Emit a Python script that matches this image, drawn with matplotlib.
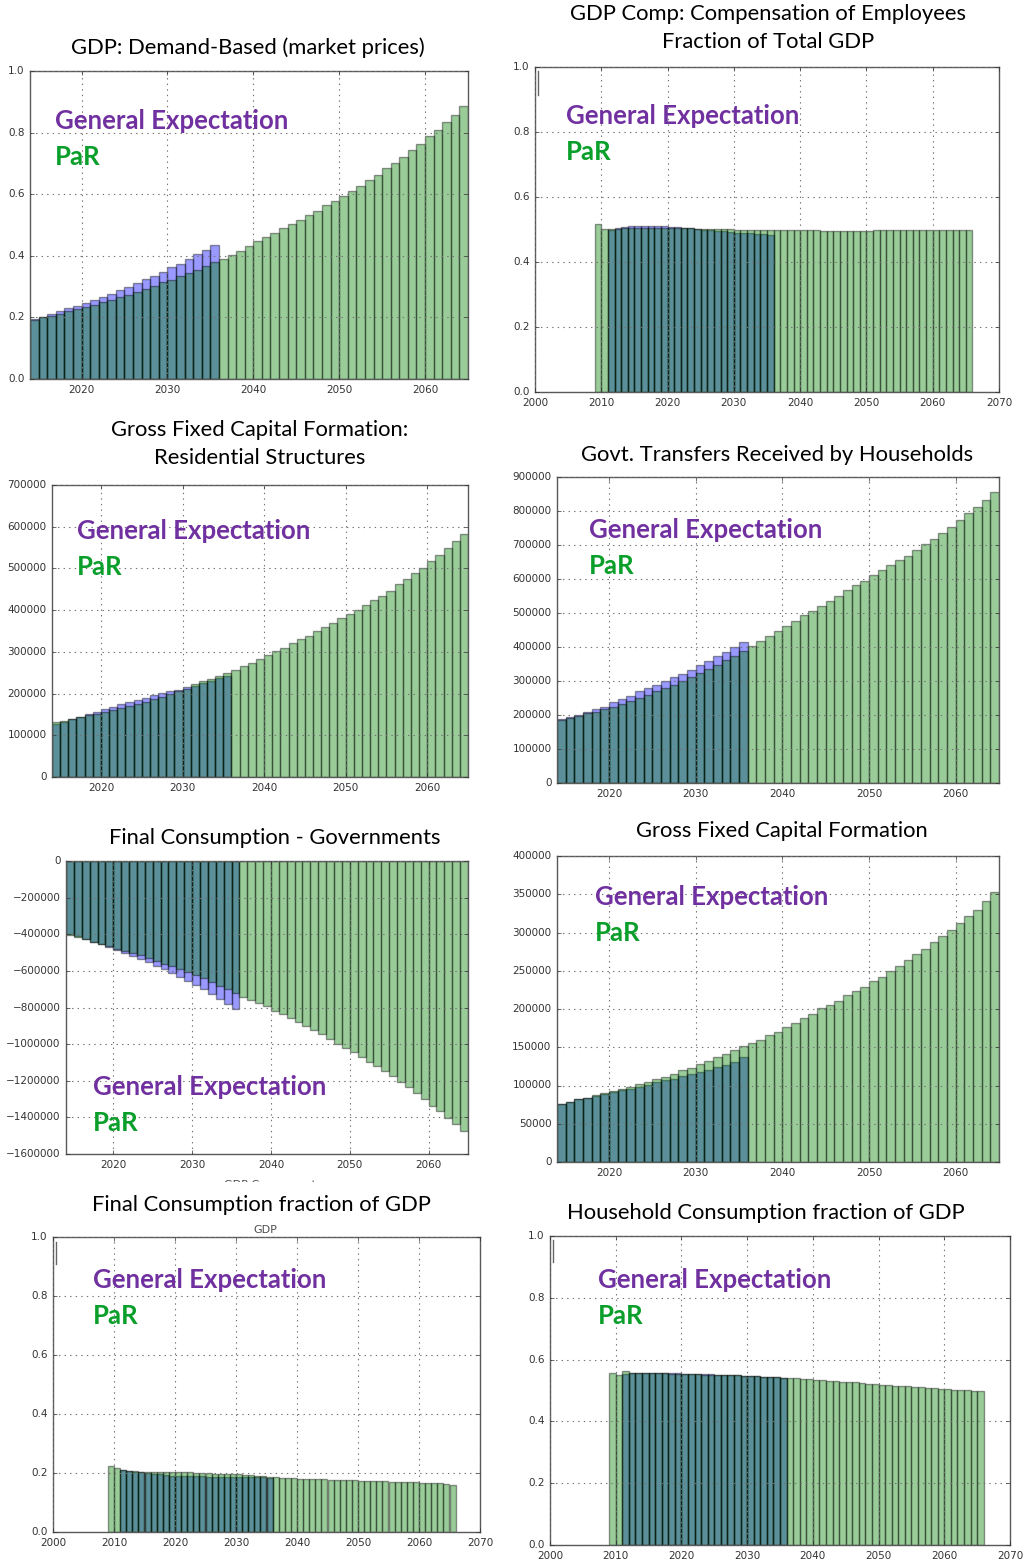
import numpy as np
import matplotlib.pyplot as plt
from matplotlib.lines import Line2D
from matplotlib.transforms import Bbox, TransformedBbox

plt.style.use('classic')

W, H = 1031, 1560

# --- GDP: Demand-Based (market prices) ---
gdp_years_par = np.arange(2014, 2065)
gdp_years_ge = np.arange(2014, 2036)
gdp_par = [0.192, 0.200, 0.205, 0.212, 0.220, 0.227, 0.234, 0.240, 0.249, 0.258,
           0.265, 0.274, 0.283, 0.292, 0.303, 0.314, 0.323, 0.334, 0.345, 0.355,
           0.368, 0.380, 0.391, 0.403, 0.417, 0.432, 0.447, 0.460, 0.474, 0.489,
           0.504, 0.516, 0.533, 0.546, 0.564, 0.578, 0.595, 0.610, 0.628, 0.645,
           0.662, 0.684, 0.702, 0.722, 0.743, 0.762, 0.788, 0.809, 0.834, 0.858,
           0.885]
gdp_ge = [0.195, 0.201, 0.211, 0.220, 0.230, 0.238, 0.248, 0.258, 0.267, 0.277,
          0.290, 0.299, 0.312, 0.324, 0.336, 0.349, 0.363, 0.375, 0.389, 0.407,
          0.420, 0.436]

# --- Compensation of employees, fraction of GDP ---
comp_years_par = np.arange(2009, 2066)
comp_years_ge = np.arange(2011, 2036)
comp_par = [0.518, 0.503, 0.502, 0.503, 0.504, 0.505, 0.505, 0.506, 0.506, 0.506,
            0.506, 0.505, 0.505, 0.504, 0.504, 0.503, 0.503, 0.502, 0.502, 0.501,
            0.501, 0.500, 0.500, 0.500, 0.499, 0.499, 0.499, 0.498, 0.498, 0.498,
            0.498, 0.497, 0.497, 0.497, 0.496, 0.496, 0.496, 0.496, 0.496, 0.496,
            0.496, 0.496, 0.497, 0.497, 0.497, 0.497, 0.497, 0.498, 0.498, 0.498,
            0.498, 0.498, 0.500, 0.500, 0.500, 0.500, 0.500]
comp_ge = [0.500, 0.504, 0.508, 0.510, 0.511, 0.511, 0.511, 0.511, 0.510, 0.508,
           0.507, 0.505, 0.504, 0.502, 0.500, 0.498, 0.496, 0.494, 0.492, 0.490,
           0.489, 0.488, 0.486, 0.485, 0.483]

# --- GFCF: residential structures ---
res_years_par = np.arange(2014, 2065)
res_years_ge = np.arange(2014, 2036)
res_par = [131e3, 134e3, 139e3, 144e3, 148e3, 152e3, 156e3, 160e3, 165e3, 170e3,
           175e3, 180e3, 186e3, 192e3, 199e3, 205e3, 212e3, 222e3, 229e3, 235e3,
           242e3, 250e3, 257e3, 265e3, 273e3, 283e3, 293e3, 301e3, 310e3, 322e3,
           331e3, 339e3, 350e3, 359e3, 370e3, 380e3, 390e3, 401e3, 413e3, 425e3,
           435e3, 447e3, 462e3, 474e3, 488e3, 502e3, 518e3, 532e3, 548e3, 565e3,
           583e3]
res_ge = [128e3, 133e3, 139e3, 145e3, 151e3, 156e3, 163e3, 168e3, 175e3, 180e3,
          185e3, 190e3, 196e3, 201e3, 206e3, 209e3, 215e3, 219e3, 225e3, 231e3,
          237e3, 243e3]

# --- Govt. transfers received by households ---
trans_years_par = np.arange(2014, 2065)
trans_years_ge = np.arange(2014, 2036)
trans_par = [186e3, 191e3, 198e3, 205e3, 210e3, 218e3, 225e3, 233e3, 242e3, 250e3,
             260e3, 270e3, 279e3, 288e3, 300e3, 312e3, 324e3, 335e3, 348e3, 363e3,
             375e3, 389e3, 404e3, 418e3, 432e3, 447e3, 463e3, 477e3, 493e3, 507e3,
             522e3, 536e3, 551e3, 567e3, 582e3, 595e3, 611e3, 626e3, 641e3, 655e3,
             669e3, 685e3, 704e3, 718e3, 735e3, 754e3, 775e3, 794e3, 813e3, 833e3,
             857e3]
trans_ge = [188e3, 194e3, 201e3, 209e3, 218e3, 225e3, 237e3, 247e3, 257e3, 270e3,
            278e3, 289e3, 301e3, 311e3, 322e3, 333e3, 347e3, 359e3, 373e3, 386e3,
            399e3, 414e3]

# --- Final consumption, governments ---
gov_years_par = np.arange(2014, 2065)
gov_years_ge = np.arange(2014, 2036)
gov_par = [-404e3, -415e3, -427e3, -440e3, -452e3, -465e3, -478e3, -490e3, -503e3,
           -516e3, -530e3, -545e3, -560e3, -575e3, -590e3, -606e3, -622e3, -640e3,
           -660e3, -680e3, -700e3, -722e3, -742e3, -759e3, -773e3, -792e3, -819e3,
           -837e3, -858e3, -880e3, -901e3, -923e3, -947e3, -971e3, -997e3, -1020e3,
           -1044e3, -1070e3, -1097e3, -1121e3, -1148e3, -1175e3, -1209e3, -1236e3,
           -1267e3, -1300e3, -1337e3, -1364e3, -1401e3, -1435e3, -1474e3]
gov_ge = [-398e3, -412e3, -426e3, -440e3, -454e3, -469e3, -484e3, -500e3, -518e3,
          -535e3, -553e3, -572e3, -592e3, -612e3, -633e3, -655e3, -678e3, -700e3,
          -726e3, -751e3, -779e3, -810e3]

# --- Gross fixed capital formation ---
gfcf_years_par = np.arange(2014, 2065)
gfcf_years_ge = np.arange(2014, 2036)
gfcf_par = [76e3, 79e3, 82e3, 84e3, 87.6e3, 90e3, 92.8e3, 95e3, 97.6e3, 101.5e3,
            105e3, 108e3, 111.5e3, 115.5e3, 120e3, 123e3, 127.7e3, 132e3, 137e3,
            141.6e3, 146e3, 151e3, 155.6e3, 160e3, 166e3, 170e3, 177e3, 182e3,
            188e3, 194e3, 201e3, 205e3, 211e3, 218e3, 224e3, 229e3, 236e3, 242e3,
            250e3, 256e3, 263.6e3, 271.5e3, 279e3, 287e3, 295e3, 303e3, 313e3,
            322e3, 330e3, 341e3, 352.5e3]
gfcf_ge = [76e3, 79e3, 82e3, 84e3, 86e3, 89e3, 91.5e3, 94e3, 95e3, 97.6e3, 100.6e3,
           104e3, 107e3, 109e3, 112e3, 114.6e3, 117.6e3, 120.7e3, 124e3, 127e3,
           130.7e3, 137.7e3]

# --- Final consumption fraction of GDP ---
fc_years_par = np.arange(2009, 2066)
fc_years_ge = np.arange(2011, 2036)
fc_par = [0.223, 0.217, 0.209, 0.207, 0.206, 0.205, 0.205, 0.205, 0.205, 0.205,
          0.204, 0.203, 0.202, 0.202, 0.201, 0.201, 0.200, 0.198, 0.197, 0.196,
          0.196, 0.195, 0.193, 0.192, 0.190, 0.189, 0.187, 0.185, 0.184, 0.183,
          0.182, 0.180, 0.179, 0.179, 0.178, 0.178, 0.177, 0.176, 0.176, 0.175,
          0.175, 0.174, 0.174, 0.173, 0.173, 0.172, 0.171, 0.170, 0.170, 0.169,
          0.168, 0.167, 0.166, 0.165, 0.165, 0.164, 0.161]
fc_ge = [0.209, 0.207, 0.205, 0.203, 0.200, 0.198, 0.195, 0.193, 0.190, 0.190,
         0.189, 0.189, 0.189, 0.189, 0.188, 0.188, 0.188, 0.188, 0.187, 0.187,
         0.186, 0.186, 0.185, 0.185, 0.184]

# --- Household consumption fraction of GDP ---
hh_years_par = np.arange(2009, 2066)
hh_years_ge = np.arange(2011, 2036)
hh_par = [0.556, 0.550, 0.563, 0.557, 0.557, 0.557, 0.557, 0.556, 0.556, 0.555,
          0.555, 0.554, 0.553, 0.552, 0.551, 0.551, 0.550, 0.550, 0.549, 0.549,
          0.548, 0.547, 0.546, 0.545, 0.544, 0.543, 0.542, 0.540, 0.539, 0.537,
          0.536, 0.535, 0.533, 0.532, 0.530, 0.529, 0.527, 0.526, 0.524, 0.522,
          0.521, 0.519, 0.518, 0.516, 0.515, 0.513, 0.512, 0.511, 0.509, 0.508,
          0.506, 0.505, 0.503, 0.502, 0.501, 0.500, 0.498]
hh_ge = [0.554, 0.557, 0.558, 0.558, 0.558, 0.558, 0.558, 0.558, 0.556, 0.555,
         0.554, 0.553, 0.552, 0.552, 0.551, 0.550, 0.549, 0.549, 0.548, 0.548,
         0.546, 0.545, 0.544, 0.543, 0.541]

PURPLE = '#7030a0'
GREEN = '#0a9e2a'
TITLE_FONT = 'Lato'

fig = plt.figure(figsize=(W / 100, H / 100), dpi=100, facecolor='white')


def px_axes(left, top, right, bottom):
    return fig.add_axes([left / W, 1 - bottom / H, (right - left) / W, (bottom - top) / H])


def fig_text(x, y, s, **kw):
    return fig.text(x / W, 1 - y / H, s, **kw)


def bar_panel(box, years_ge, ge, years_par, par, xlim, xticks, ylim, yticks):
    ax = px_axes(*box)
    ax.bar(years_ge, ge, width=1, align='edge', color='b', alpha=0.4, edgecolor='k')
    ax.bar(years_par, par, width=1, align='edge', color='g', alpha=0.4, edgecolor='k')
    ax.set_xlim(*xlim)
    ax.set_xticks(xticks)
    ax.set_ylim(*ylim)
    ax.set_yticks(yticks)
    ax.ticklabel_format(useOffset=False, style='plain')
    ax.grid(True, color='0.45', linestyle=':', linewidth=0.8)
    ax.set_axisbelow(False)
    ax.tick_params(labelsize=7.5, colors='0.2', length=3)
    for sp in ax.spines.values():
        sp.set_color('0.35')
    return ax


def labels(x, y):
    fig_text(x, y, 'General Expectation', color=PURPLE, fontsize=18.5,
             fontweight='bold', family=TITLE_FONT, va='center')
    fig_text(x, y + 36, 'PaR', color=GREEN, fontsize=18.5,
             fontweight='bold', family=TITLE_FONT, va='center')


def title(x, y, s):
    fig_text(x, y, s, fontsize=15.8, family=TITLE_FONT, ha='center', va='center')


short_x = (2014, 2065)
short_ticks = range(2020, 2061, 10)
long_x = (2000, 2070)
long_ticks = range(2000, 2071, 10)
frac_ticks = np.arange(0, 1.01, 0.2)

# row 1
bar_panel((30, 71, 468, 379), gdp_years_ge, gdp_ge, gdp_years_par, gdp_par,
          short_x, short_ticks, (0, 1), frac_ticks)
title(248, 48, 'GDP: Demand-Based (market prices)')
labels(55, 121)

bar_panel((535, 67, 999, 392), comp_years_ge, comp_ge, comp_years_par, comp_par,
          long_x, long_ticks, (0, 1), frac_ticks)
title(768, 14, 'GDP Comp: Compensation of Employees')
title(768, 42, 'Fraction of Total GDP')
labels(566, 116)

# row 2
bar_panel((52, 485, 468, 777), res_years_ge, res_ge, res_years_par, res_par,
          short_x, short_ticks, (0, 700000), range(0, 700001, 100000))
title(260, 430, 'Gross Fixed Capital Formation:')
title(260, 458, 'Residential Structures')
labels(77, 531)

bar_panel((557, 477, 999, 783), trans_years_ge, trans_ge, trans_years_par, trans_par,
          short_x, short_ticks, (0, 900000), range(0, 900001, 100000))
title(777, 455, 'Govt. Transfers Received by Households')
labels(589, 530)

# row 3
bar_panel((66, 861, 468, 1154), gov_years_ge, gov_ge, gov_years_par, gov_par,
          short_x, short_ticks, (-1600000, 0), range(-1600000, 1, 200000))
title(275, 838, 'Final Consumption - Governments')
labels(93, 1087)

bar_panel((557, 856, 999, 1162), gfcf_years_ge, gfcf_ge, gfcf_years_par, gfcf_par,
          short_x, short_ticks, (0, 400000), range(0, 400001, 50000))
title(782, 831, 'Gross Fixed Capital Formation')
labels(595, 897)

# row 4
bar_panel((53, 1237, 480, 1532), fc_years_ge, fc_ge, fc_years_par, fc_par,
          long_x, long_ticks, (0, 1), frac_ticks)
title(261, 1205, 'Final Consumption fraction of GDP')
labels(93, 1280)

bar_panel((550, 1236, 1010, 1545), hh_years_ge, hh_ge, hh_years_par, hh_par,
          long_x, long_ticks, (0, 1), frac_ticks)
title(766, 1213, 'Household Consumption fraction of GDP')
labels(598, 1280)

# leftover legend edges and half-hidden axis labels
for x, y0, y1 in [(538, 71, 95), (56, 1242, 1264), (553, 1240, 1262)]:
    fig.add_artist(Line2D([x / W, x / W], [1 - y0 / H, 1 - y1 / H],
                          transform=fig.transFigure, color='0.4', linewidth=1))

for x, y, s, clip in [(265, 1230, 'GDP', (200, 1225, 330, 1240)),
                      (270, 1185, 'GDP Component', (180, 1174, 360, 1182))]:
    t = fig_text(x, y, s, fontsize=8, color='0.3', ha='center', va='center')
    x0, y0, x1, y1 = clip
    t.set_clip_box(TransformedBbox(Bbox([[x0 / W, 1 - y1 / H], [x1 / W, 1 - y0 / H]]),
                                   fig.transFigure))
    t.set_clip_on(True)

fig.savefig('out.png', dpi=100, facecolor='white')
